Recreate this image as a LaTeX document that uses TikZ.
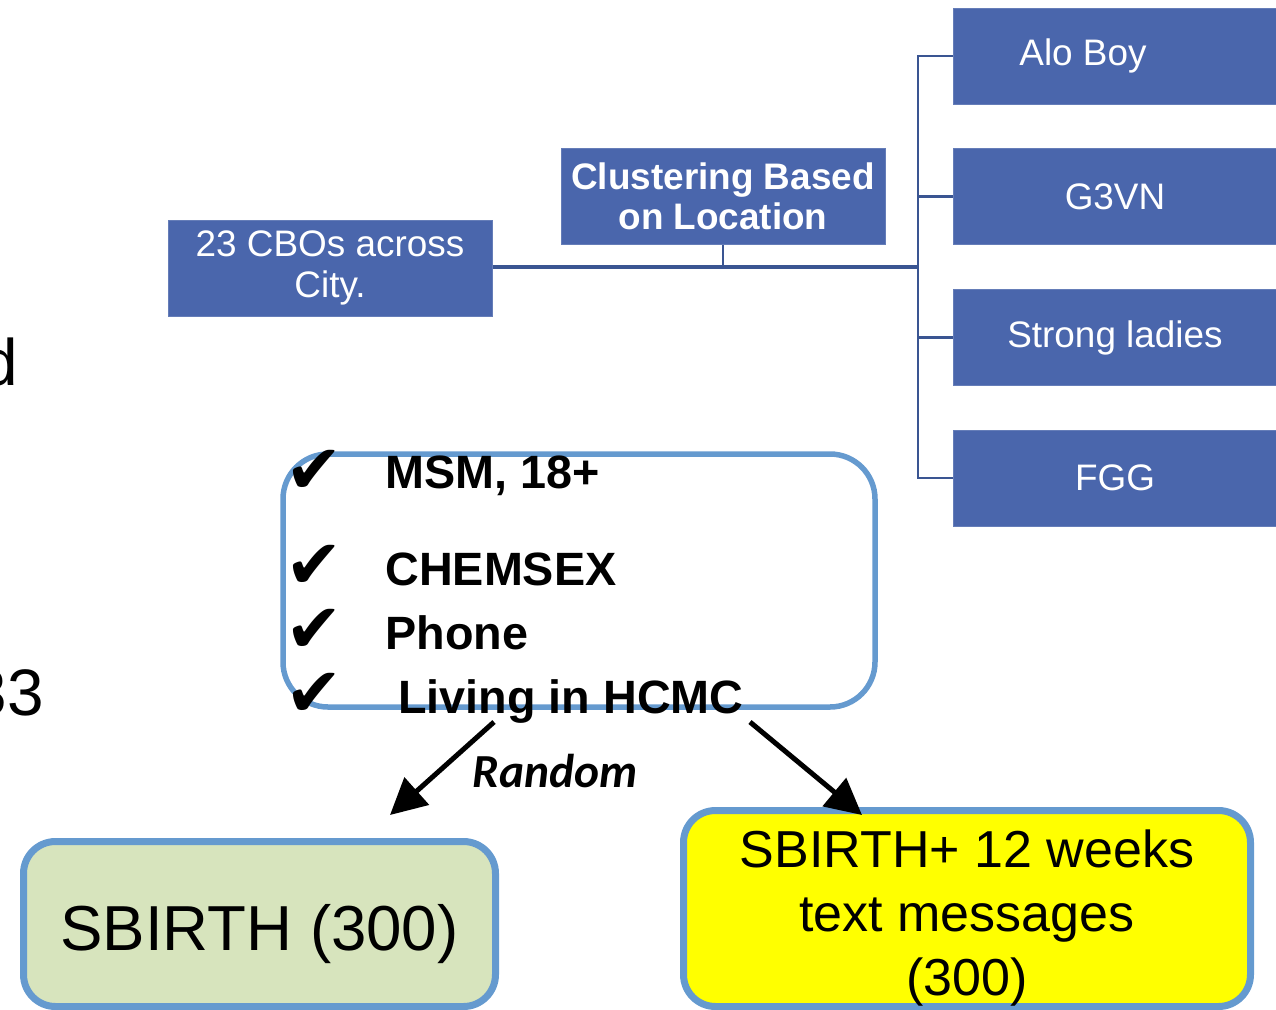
\documentclass[tikz,border=0pt]{standalone}
\usepackage{fontspec}
\setmainfont{Liberation Sans}
\newfontfamily\symfont{DejaVu Sans}
\newfontfamily\calfont{Carlito}
\usetikzlibrary{arrows.meta}

\newdimen\pxu \pxu=0.02cm
\definecolor{boxblue}{HTML}{4A66AC}
\definecolor{lineblue}{HTML}{3A5592}
\definecolor{rimblue}{HTML}{659ACF}
\definecolor{sagegreen}{HTML}{D7E4BD}
\definecolor{brightyellow}{HTML}{FFFF00}

\tikzset{
  orgbox/.style={fill=boxblue, draw=boxblue!85!white, line width=1\pxu,
    text=white, minimum width=324\pxu, minimum height=96\pxu, inner sep=0pt,
    align=center, font=\fontsize{21}{23.2}\selectfont},
  wire/.style={draw=lineblue, line width=2.5\pxu},
  bus/.style={draw=lineblue, line width=3.5\pxu},
  critbox/.style={draw=rimblue, line width=5.5\pxu, rounded corners=45\pxu,
    minimum width=592\pxu, minimum height=253\pxu, inner sep=0pt},
  armbox/.style={draw=rimblue, line width=7\pxu, rounded corners=32\pxu, inner sep=0pt},
  crit/.style={anchor=base west, inner sep=0pt, font=\fontsize{26.6}{30}\selectfont\bfseries},
  tick/.style={anchor=base west, inner sep=0pt, font=\symfont\fontsize{39}{39}\selectfont},
  bigtext/.style={inner sep=0pt, font=\fontsize{36.2}{40}\selectfont},
  armtext/.style={inner sep=0pt, align=center, font=\fontsize{29.6}{36.3}\selectfont},
  fragment/.style={anchor=base east, inner sep=0pt, font=\fontsize{37.4}{40}\selectfont},
  flow/.style={draw=black, line width=0.1cm, -{Triangle[length=0.72cm,width=0.72cm]}},
}

\begin{document}
\begin{tikzpicture}[x=0.02cm, y=-0.02cm]
  \useasboundingbox (0,0) rectangle (1276,1009);
  \clip (0,0) rectangle (1276,1009);

  % text running in from the left margin
  \node[fragment] (fragd) at (18,385) {d};
  \node[fragment] (frag33) at (44,715) {33};

  % organisation chart
  \node[orgbox] (cbo) at (330,268) {23 CBOs across\\City.};
  \node[orgbox, font=\fontsize{21}{22.7}\selectfont\bfseries] (clus) at (723,196)
    {Clustering Based\\on Location};
  \node[orgbox] (alo) at (1115,56) {Alo Boy\hspace*{64\pxu}};
  \node[orgbox] (g3vn) at (1115,196.5) {G3VN};
  \node[orgbox] (strong) at (1115,337.5) {Strong ladies};
  \node[orgbox] (fgg) at (1115,478) {FGG};

  \coordinate (hub) at (918,267);
  \draw[bus] (cbo.east |- hub) -- (hub);
  \draw[wire] (clus.south) -- (clus.south |- hub);
  \draw[wire] (alo.west) -- (alo.west -| hub) -- (fgg.west -| hub) -- (fgg.west);
  \draw[wire] (g3vn.west) -- (g3vn.west -| hub);
  \draw[wire] (strong.west) -- (strong.west -| hub);

  % eligibility criteria
  \node[critbox] (criteria) at (579,580.5) {};
  \node[tick] (t1) at (285,493) {✔};
  \node[tick] (t2) at (285,588) {✔};
  \node[tick] (t3) at (285,652) {✔};
  \node[tick] (t4) at (285,716) {✔};
  \node[crit] (c1) at (385,488) {MSM, 18+};
  \node[crit] (c2) at (385,585) {CHEMSEX};
  \node[crit] (c3) at (385,649) {Phone};
  \node[crit] (c4) at (398,713) {Living in HCMC};

  % study arms
  \node[armbox, fill=sagegreen, minimum width=472\pxu, minimum height=165\pxu]
    (arm1) at (259.5,924) {};
  \node[bigtext, anchor=base] (arm1text) at (259.5,950) {SBIRTH (300)};
  \node[armbox, fill=brightyellow, minimum width=567\pxu, minimum height=196\pxu]
    (arm2) at (967,908.5) {};
  \node[armtext, anchor=base] (arm2text) at (967,995)
    {SBIRTH+ 12 weeks\\text messages\\(300)};

  % randomisation
  \coordinate (splitl) at (494,722);
  \coordinate (splitr) at (750,722);
  \coordinate (endl) at (390,815);
  \coordinate (endr) at (862,815);
  \draw[flow] (splitl) -- (endl);
  \draw[flow] (splitr) -- (endr);
  \node[inner sep=0pt, font=\calfont\fontsize{27}{30}\selectfont\bfseries\itshape]
    (rand) at (555,771) {Random};
\end{tikzpicture}
\end{document}
